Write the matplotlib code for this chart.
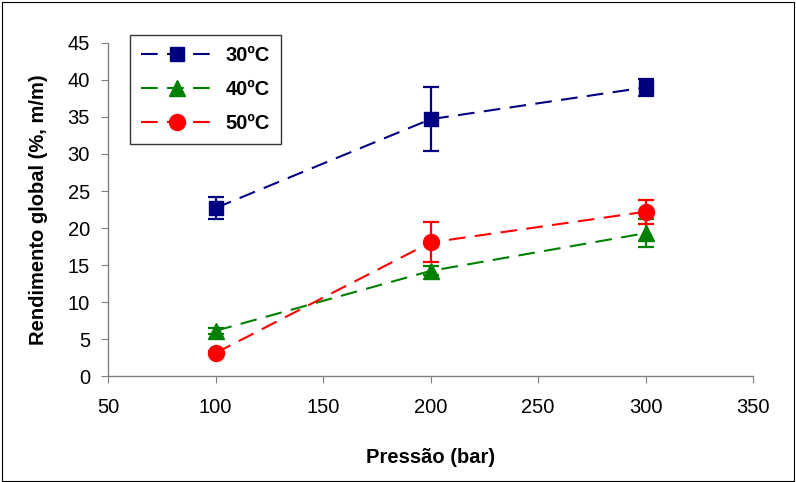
import matplotlib
matplotlib.use("Agg")
import matplotlib.pyplot as plt
from matplotlib.patches import Rectangle

plt.rcParams['font.family'] = ['Liberation Sans', 'DejaVu Sans']

pressure = [100, 200, 300]
y30 = [22.7, 34.7, 39.0]
e30 = [1.5, 4.3, 1.1]
y40 = [6.1, 14.2, 19.3]
e40 = [0.4, 0.6, 1.85]
y50 = [3.1, 18.05, 22.2]
e50 = [0.3, 2.7, 1.65]
labels = ['30ºC', '40ºC', '50ºC']

fig = plt.figure(figsize=(7.96, 4.82), dpi=100)
ax = fig.add_axes([0.1357, 0.2199, 0.946 - 0.1357, 0.9108 - 0.2199])

series = [
    (y30, e30, '#000080', 's', 9.5),
    (y40, e40, '#008000', '^', 11),
    (y50, e50, '#FF0000', 'o', 11.5),
]
for (ys, es, c, m, ms), lab in zip(series, labels):
    ax.errorbar(pressure, ys, yerr=es, color=c, fmt='none', capsize=6,
                capthick=1.6, elinewidth=1.6)
    ax.plot(pressure, ys, color=c, marker=m, markersize=ms,
            linestyle=(0, (8, 4.5)), linewidth=1.5, label=lab)

ax.set_xlim(50, 350)
ax.set_ylim(0, 45)
ax.set_xticks(range(50, 351, 50))
ax.set_yticks(range(0, 46, 5))
ax.spines['top'].set_visible(False)
ax.spines['right'].set_visible(False)
for s in ['left', 'bottom']:
    ax.spines[s].set_color('#808080')
    ax.spines[s].set_linewidth(1)
ax.tick_params(axis='both', direction='out', length=5, color='#808080',
               labelsize=14.5)
ax.tick_params(axis='y', pad=8)
ax.tick_params(axis='x', pad=11)
ax.set_xlabel('Pressão (bar)', fontsize=14.5, fontweight='bold', labelpad=22)
ax.set_ylabel('Rendimento global (%, m/m)', fontsize=14.5, fontweight='bold', labelpad=14)

leg = ax.legend(loc='upper left', bbox_to_anchor=(0.034, 1.025), frameon=True,
                fancybox=False, edgecolor='black', prop={'weight': 'bold', 'size': 14.5},
                handlelength=3.6, labelspacing=0.75, borderpad=0.55, handletextpad=0.6,
                borderaxespad=0.0)
leg.get_frame().set_linewidth(1.0)

fig.patches.append(Rectangle((0.002, 0.002), 0.996, 0.994, transform=fig.transFigure,
                             fill=False, edgecolor='black', linewidth=0.8))

fig.savefig('out.png', dpi=100)
